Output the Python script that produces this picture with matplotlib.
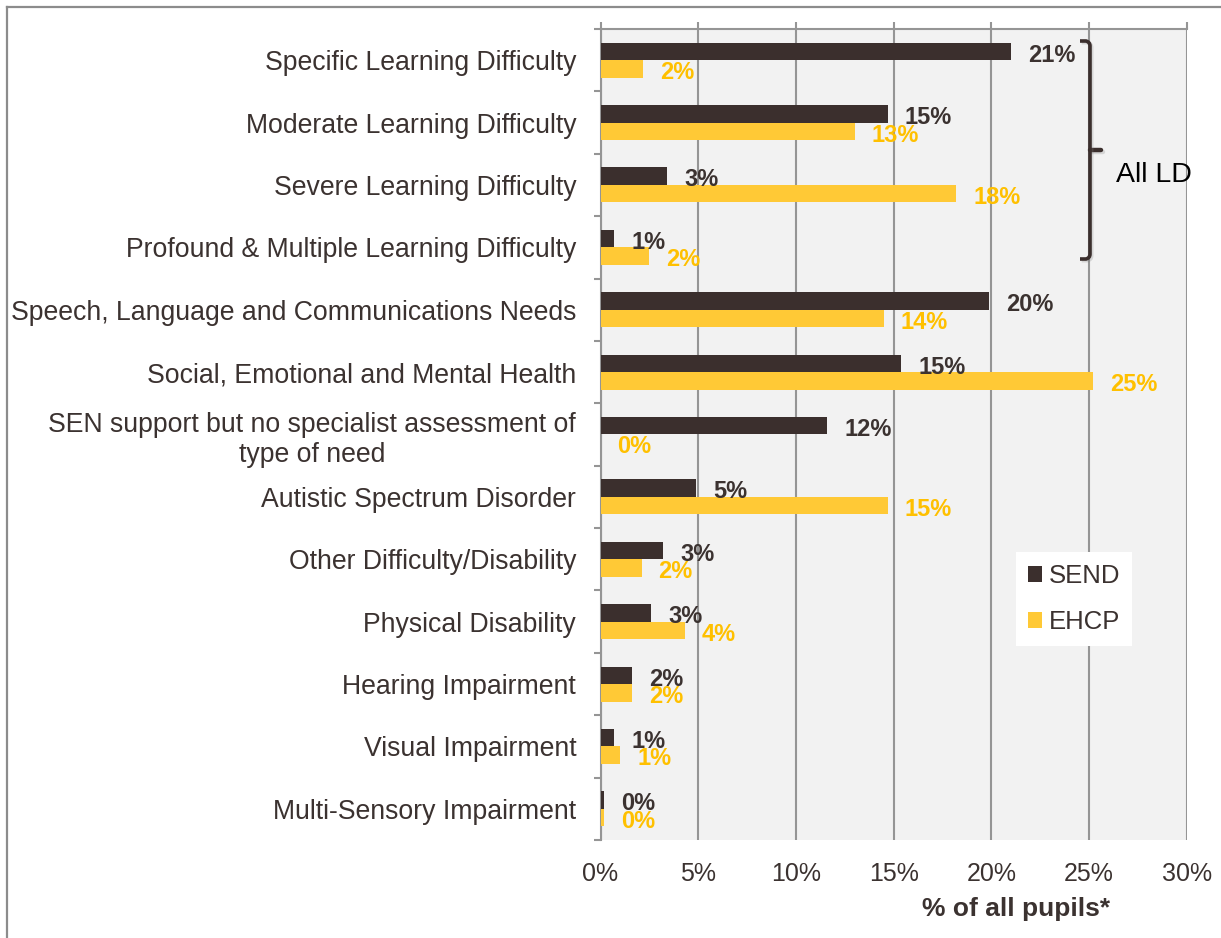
import matplotlib
matplotlib.use("Agg")
import matplotlib.pyplot as plt
import matplotlib.patheffects as pe
from matplotlib.path import Path
from matplotlib.patches import PathPatch
from matplotlib.lines import Line2D
import numpy as np

plt.rcParams['font.family'] = ['Liberation Sans', 'DejaVu Sans']

categories = [
    "Specific Learning Difficulty",
    "Moderate Learning Difficulty",
    "Severe Learning Difficulty",
    "Profound & Multiple Learning Difficulty",
    "Speech, Language and Communications Needs",
    "Social, Emotional and Mental Health",
    "SEN support but no specialist assessment of\ntype of need",
    "Autistic Spectrum Disorder",
    "Other Difficulty/Disability",
    "Physical Disability",
    "Hearing Impairment",
    "Visual Impairment",
    "Multi-Sensory Impairment",
]
send = [21.0, 14.7, 3.4, 0.7, 19.9, 15.4, 11.6, 4.9, 3.2, 2.6, 1.6, 0.7, 0.2]
ehcp = [2.2, 13.0, 18.2, 2.5, 14.5, 25.2, 0.0, 14.7, 2.1, 4.3, 1.6, 1.0, 0.2]
xticks = [0, 5, 10, 15, 20, 25, 30]
xticklabels = ["0%", "5%", "10%", "15%", "20%", "25%", "30%"]

W, H = 1221, 938
DARK = "#3B2F2D"
YELLOW_BAR = "#FFC936"
YELLOW_TXT = "#FFC000"
TEXT = "#3B3230"
GRID = "#959595"

fig = plt.figure(figsize=(W / 100, H / 100), dpi=100)
fig.patch.set_facecolor("white")

def fx(px):
    return px / W

def fy(py):
    return 1 - py / H

ax = fig.add_axes([fx(600.5), fy(840), fx(1186.7) - fx(600.5), fy(29) - fy(840)])
ax.set_facecolor("#F2F2F2")

y = np.arange(len(categories))
bh = 0.28
off = 0.14
b1 = ax.barh(y - off, send, height=bh, color=DARK, label="SEND", zorder=3)
b2 = ax.barh(y + off, ehcp, height=bh, color=YELLOW_BAR, label="EHCP", zorder=3)

gap = 0.87
for yi, v in zip(y, send):
    ax.text(v + gap, yi - off + 0.02, f"{v:.0f}%", ha="left", va="center_baseline",
            fontsize=17, fontweight="bold", color=TEXT, zorder=4)
for yi, v in zip(y, ehcp):
    ax.text(v + gap, yi + off + 0.02, f"{v:.0f}%", ha="left", va="center_baseline",
            fontsize=17, fontweight="bold", color=YELLOW_TXT, zorder=4)

ax.set_xlim(0, 30)
ax.set_ylim(len(categories) - 0.5, -0.5)

ax.set_xticks(xticks)
ax.set_xticklabels(xticklabels, fontsize=18, color=TEXT)
ax.tick_params(axis="x", top=True, bottom=False, labeltop=False, labelbottom=True,
               direction="out", length=5, width=1.5, color=GRID, pad=11)
ax.grid(axis="x", color=GRID, linewidth=1.5, zorder=1)
ax.set_axisbelow(True)

ax.set_yticks(y)
ax.set_yticklabels(categories, fontsize=19.2, color=TEXT, linespacing=1.25)
ax.get_yticklabels()[6].set_multialignment("center")
ax.set_yticks(np.arange(-0.5, len(categories), 1), minor=True)
ax.tick_params(axis="y", which="major", length=0, pad=17.5)
ax.tick_params(axis="y", which="minor", length=5, width=1.5, color=GRID, direction="out")

for side in ("right", "bottom"):
    ax.spines[side].set_visible(False)
for side in ("left", "top"):
    ax.spines[side].set_color(GRID)
    ax.spines[side].set_linewidth(1.5)

ax.set_xlabel("% of all pupils*", fontsize=19, fontweight="bold", color=TEXT)
ax.xaxis.set_label_coords((1016 - 600.5) / 586.2, (840 - 897) / 811)
ax.xaxis.label.set_va("top")

leg = ax.legend(handles=[b1, b2], loc="upper left",
                bbox_to_anchor=(fx(1016), fy(552)), bbox_transform=fig.transFigure,
                frameon=True, fancybox=False, framealpha=1, edgecolor="none",
                facecolor="white", fontsize=18.5, handlelength=0.55, handleheight=0.55,
                handletextpad=0.25, labelspacing=0.85, borderpad=0.47, borderaxespad=0)
for t in leg.get_texts():
    t.set_color(TEXT)

# bracket grouping the learning-difficulty categories
verts = [
    (fx(1080), fy(41)), (fx(1086), fy(41)), (fx(1090), fy(42)), (fx(1090), fy(46)),
    (fx(1090), fy(254)),
    (fx(1090), fy(258)), (fx(1086), fy(259)), (fx(1080), fy(259)),
]
codes = [Path.MOVETO, Path.LINETO, Path.CURVE3, Path.CURVE3,
         Path.LINETO, Path.CURVE3, Path.CURVE3, Path.LINETO]
shadow = [pe.SimpleLineShadow(offset=(1.2, -1.2), alpha=0.25, shadow_color="gray"), pe.Normal()]
brace = PathPatch(Path(verts, codes), transform=fig.transFigure, fill=False,
                  edgecolor=DARK, linewidth=2.6, capstyle="butt", zorder=5)
brace.set_path_effects(shadow)
fig.patches.append(brace)
nub = Line2D([fx(1090), fx(1101)], [fy(150), fy(150)], transform=fig.transFigure,
             color=DARK, linewidth=3.2, solid_capstyle="round", zorder=5)
nub.set_path_effects(shadow)
fig.lines.append(nub)
fig.text(fx(1116), fy(175), "All LD", fontsize=20.5, color="black", ha="left", va="center")

# outer frame (top and left edges)
fig.lines.append(Line2D([fx(7), fx(7)], [fy(7), 0], transform=fig.transFigure,
                        color="#8C8C8C", linewidth=1.6))
fig.lines.append(Line2D([fx(7), 1], [fy(7), fy(7)], transform=fig.transFigure,
                        color="#8C8C8C", linewidth=1.6))

fig.savefig("out.png", dpi=100)
